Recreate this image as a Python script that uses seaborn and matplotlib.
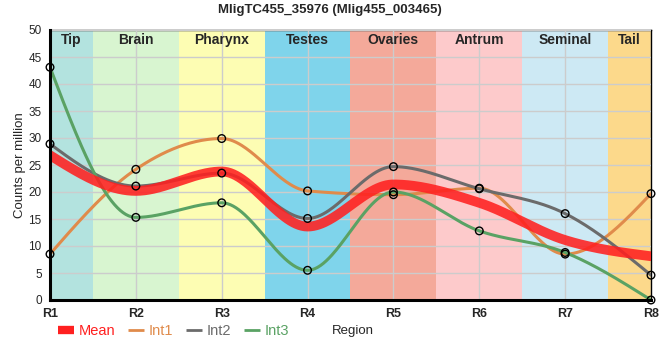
import numpy as np
import pandas as pd
import seaborn as sns
import matplotlib.pyplot as plt
from matplotlib.lines import Line2D

regions = ["R1", "R2", "R3", "R4", "R5", "R6", "R7", "R8"]
band_names = ["Tip", "Brain", "Pharynx", "Testes", "Ovaries", "Antrum", "Seminal", "Tail"]
band_colors = ["#b3e3df", "#d8f5d0", "#fdfdb3", "#7fd4eb", "#f4a99a", "#fdcacb", "#cde9f4", "#fcd98b"]

int1 = [8.5, 24.2, 29.9, 20.2, 19.5, 20.7, 8.5, 19.7]
int2 = [28.9, 21.1, 23.5, 15.1, 24.7, 20.6, 16.0, 4.6]
int3 = [43.1, 15.3, 18.0, 5.5, 20.0, 12.8, 8.8, 0.0]
mean = [26.8, 20.2, 23.8, 13.6, 21.4, 18.0, 11.1, 8.1]

series_colors = {"Mean": "#ff2020", "Int1": "#e08b4b", "Int2": "#6b6b6b", "Int3": "#5aa264"}


def monotone(x, y, n=60):
    # d3 curveMonotoneX style hermite smoothing
    x = np.asarray(x, float)
    y = np.asarray(y, float)
    h = np.diff(x)
    s = np.diff(y) / h
    m = np.zeros_like(y)
    for i in range(1, len(y) - 1):
        p = (s[i - 1] * h[i] + s[i] * h[i - 1]) / (h[i - 1] + h[i])
        m[i] = (np.sign(s[i - 1]) + np.sign(s[i])) * min(abs(s[i - 1]), abs(s[i]), 0.5 * abs(p))
    m[0] = (3 * s[0] - m[1]) / 2
    m[-1] = (3 * s[-1] - m[-2]) / 2
    xs, ys = [], []
    for i in range(len(x) - 1):
        t = np.linspace(0, 1, n, endpoint=(i == len(x) - 2))
        h00 = 2 * t**3 - 3 * t**2 + 1
        h10 = t**3 - 2 * t**2 + t
        h01 = -2 * t**3 + 3 * t**2
        h11 = t**3 - t**2
        xs.append(x[i] + t * h[i])
        ys.append(h00 * y[i] + h10 * h[i] * m[i] + h01 * y[i + 1] + h11 * h[i] * m[i + 1])
    return np.concatenate(xs), np.concatenate(ys)


sns.set_style("white")
plt.rcParams["font.family"] = ["Liberation Sans", "DejaVu Sans"]

fig = plt.figure(figsize=(6.6, 3.6), dpi=100)
ax = fig.add_axes([50 / 660, 60 / 360, 601 / 660, 270 / 360])

xpos = np.arange(len(regions))

for i, (name, col) in enumerate(zip(band_names, band_colors)):
    lo = max(i - 0.5, 0)
    hi = min(i + 0.5, len(regions) - 1)
    ax.axvspan(lo, hi, color=col, zorder=0, lw=0)
    ax.text((lo + hi) / 2, 48.2, name, ha="center", va="center", fontsize=10,
            fontweight="bold", zorder=5)

ax.grid(True, color="#cccccc", lw=1, zorder=1)
ax.set_axisbelow(False)

frames = []
for name, vals in [("Int1", int1), ("Int2", int2), ("Int3", int3)]:
    sx, sy = monotone(xpos, vals)
    frames.append(pd.DataFrame({"x": sx, "y": sy, "series": name}))
lines = pd.concat(frames)
sns.lineplot(data=lines, x="x", y="y", hue="series", palette=series_colors, lw=2.2,
             sort=False, estimator=None, legend=False, ax=ax, zorder=3)

mx, my = monotone(xpos, mean)
sns.lineplot(x=mx, y=my, color=series_colors["Mean"], lw=7, alpha=0.88, sort=False,
             estimator=None, ax=ax, zorder=4)

pts = pd.DataFrame({"x": np.tile(xpos, 3), "y": int1 + int2 + int3})
sns.scatterplot(data=pts, x="x", y="y", s=30, color="none", edgecolor="black",
                linewidth=1, ax=ax, zorder=6, clip_on=False)

ax.set_xlim(0, len(regions) - 1)
ax.set_ylim(0, 50)
ax.set_xticks(xpos)
ax.set_xticklabels(regions, fontsize=9, fontweight="bold")
ax.set_yticks(np.arange(0, 51, 5))
ax.tick_params(axis="y", labelsize=8.5, length=4, width=1, pad=2)
ax.tick_params(axis="x", length=4, width=1, pad=2)
ax.set_xlabel("")
ax.set_ylabel("Counts per million", fontsize=9.5, labelpad=2)
for side in ["top", "right"]:
    ax.spines[side].set_linewidth(1)
    ax.spines[side].set_color("black")
for side in ["left", "bottom"]:
    ax.spines[side].set_linewidth(2.2)
    ax.spines[side].set_color("black")
    ax.spines[side].set_zorder(7)

fig.text(0.5, 1 - 10 / 360, "MligTC455_35976 (Mlig455_003465)", ha="center", va="center",
         fontsize=9.5, fontweight="bold")
fig.text(332 / 660, 1 - 331 / 360, "Region", ha="left", va="center", fontsize=9.5)

handles = [Line2D([], [], color=series_colors["Mean"], lw=6, solid_capstyle="butt"),
           Line2D([], [], color=series_colors["Int1"], lw=2, solid_capstyle="butt"),
           Line2D([], [], color=series_colors["Int2"], lw=2, solid_capstyle="butt"),
           Line2D([], [], color=series_colors["Int3"], lw=2, solid_capstyle="butt")]
leg = fig.legend(handles, ["Mean", "Int1", "Int2", "Int3"], ncol=4, frameon=False,
                 loc="center left", bbox_to_anchor=(45 / 660, 1 - 331 / 360),
                 fontsize=10.5, handlelength=1.1, handletextpad=0.3, columnspacing=0.9)
for txt, name in zip(leg.get_texts(), ["Mean", "Int1", "Int2", "Int3"]):
    txt.set_color(series_colors[name])

fig.savefig("out.png", dpi=100)
